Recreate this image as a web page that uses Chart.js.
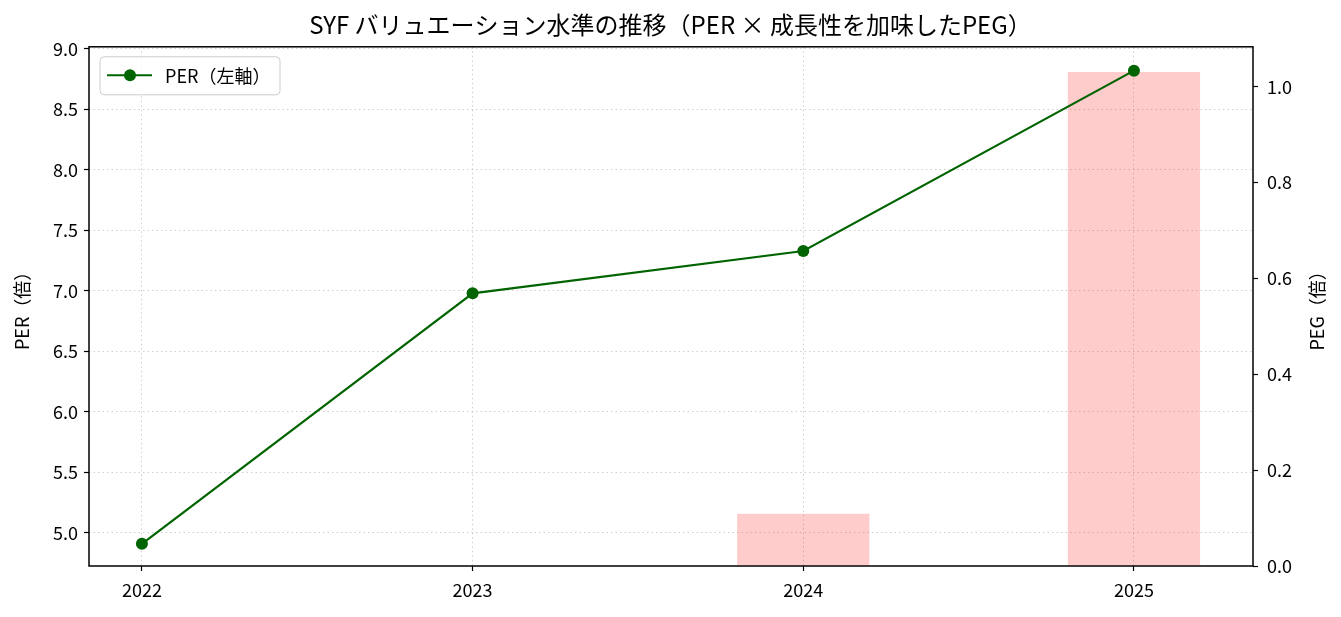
<!DOCTYPE html>
<html>
<head>
<meta charset="utf-8">
<script src="https://cdn.jsdelivr.net/npm/chart.js@4"></script>
<style>
  body { margin: 0; background: #fff; }
  #wrap { width: 1341px; height: 617px; }
</style>
</head>
<body>
<div id="wrap"><canvas id="valChart"></canvas></div>
<script>
const years = ['2022', '2023', '2024', '2025'];
const perValues = [4.91, 6.98, 7.33, 8.82];
const pegValues = [null, null, 0.109, 1.031];

const FONT = '"Noto Sans CJK JP", "Noto Sans", sans-serif';
const GRID = 'rgba(176,176,176,0.6)';

// 枠線と凡例（プロット内左上）、右軸ラベル
const framePlugin = {
  id: 'frame',
  afterDraw(chart) {
    const ctx = chart.ctx;
    const a = chart.chartArea;
    ctx.save();
    ctx.strokeStyle = '#000';
    ctx.lineWidth = 1.5;
    ctx.strokeRect(a.left, a.top, a.right - a.left, a.bottom - a.top);

    // legend
    const bx = a.left + 11, by = a.top + 10;
    ctx.fillStyle = 'rgba(255,255,255,0.8)';
    ctx.strokeStyle = '#cccccc';
    ctx.lineWidth = 1;
    ctx.beginPath();
    ctx.roundRect(bx, by, 180, 38, 4);
    ctx.fill();
    ctx.stroke();
    ctx.strokeStyle = '#006400';
    ctx.lineWidth = 2;
    ctx.beginPath();
    ctx.moveTo(bx + 7, by + 18.5);
    ctx.lineTo(bx + 52, by + 18.5);
    ctx.stroke();
    ctx.fillStyle = '#006400';
    ctx.beginPath();
    ctx.arc(bx + 30, by + 18.5, 6, 0, Math.PI * 2);
    ctx.fill();
    ctx.fillStyle = '#000';
    ctx.font = '18px ' + FONT;
    ctx.textBaseline = 'middle';
    ctx.fillText('PER（左軸）', bx + 65, by + 19);

    // right axis title (reads bottom to top)
    ctx.translate(1317, (a.top + a.bottom) / 2);
    ctx.rotate(-Math.PI / 2);
    ctx.textAlign = 'center';
    ctx.fillText('PEG（倍）', 0, 0);
    ctx.restore();
  }
};

const tickFont = { family: FONT, size: 18 };

new Chart(document.getElementById('valChart'), {
  data: {
    datasets: [
      {
        type: 'line',
        label: 'PER（左軸）',
        data: perValues.map((v, i) => ({ x: i, y: v })),
        yAxisID: 'y',
        borderColor: '#006400',
        backgroundColor: '#006400',
        borderWidth: 2.2,
        pointRadius: 6,
        pointBorderWidth: 0,
        pointBackgroundColor: '#006400',
        order: 0
      },
      {
        type: 'bar',
        label: 'PEG',
        data: pegValues.map((v, i) => ({ x: i, y: v })),
        yAxisID: 'y1',
        backgroundColor: 'rgba(255,0,0,0.2)',
        barPercentage: 0.4,
        categoryPercentage: 1.0,
        order: 1
      }
    ]
  },
  options: {
    responsive: true,
    maintainAspectRatio: false,
    animation: false,
    layout: { padding: 0 },
    plugins: {
      legend: { display: false },
      tooltip: { enabled: false },
      title: {
        display: true,
        text: 'SYF バリュエーション水準の推移（PER × 成長性を加味したPEG）',
        color: '#000',
        font: { family: FONT, size: 24, weight: 'normal' },
        padding: { top: 10, bottom: 8 }
      }
    },
    scales: {
      x: {
        type: 'linear',
        position: 'bottom',
        offset: false,
        min: -0.16,
        max: 3.36,
        afterFit: s => { s.height = 51; },
        ticks: {
          stepSize: 1,
          includeBounds: false,
          color: '#000',
          font: tickFont,
          padding: 8,
          callback: v => Number.isInteger(v) ? years[v] : ''
        },
        grid: {
          offset: false,
          color: GRID,
          lineWidth: 1,
          tickLength: 5,
          tickColor: '#000',
          tickWidth: 1.2,
          tickBorderDash: []
        },
        border: { display: false, dash: [1.5, 3] }
      },
      y: {
        position: 'left',
        min: 4.727,
        max: 9.017,
        afterFit: s => { s.width = 89; },
        ticks: {
          stepSize: 0.5,
          includeBounds: false,
          color: '#000',
          font: tickFont,
          padding: 6,
          callback: v => v.toFixed(1)
        },
        grid: {
          color: GRID,
          lineWidth: 1,
          tickLength: 5,
          tickColor: '#000',
          tickWidth: 1.2,
          tickBorderDash: []
        },
        border: { display: false, dash: [1.5, 3] },
        title: {
          display: true,
          text: 'PER（倍）',
          color: '#000',
          font: { family: FONT, size: 18 },
          padding: { top: 11, bottom: 0 }
        }
      },
      y1: {
        position: 'right',
        min: 0,
        max: 1.0835,
        afterFit: s => { s.width = 88; },
        ticks: {
          stepSize: 0.2,
          includeBounds: false,
          color: '#000',
          font: tickFont,
          padding: 9,
          callback: v => v.toFixed(1)
        },
        grid: {
          drawOnChartArea: false,
          tickLength: 5,
          tickColor: '#000',
          tickWidth: 1.2
        },
        border: { display: false }
      }
    }
  },
  plugins: [framePlugin]
});
</script>
</body>
</html>
